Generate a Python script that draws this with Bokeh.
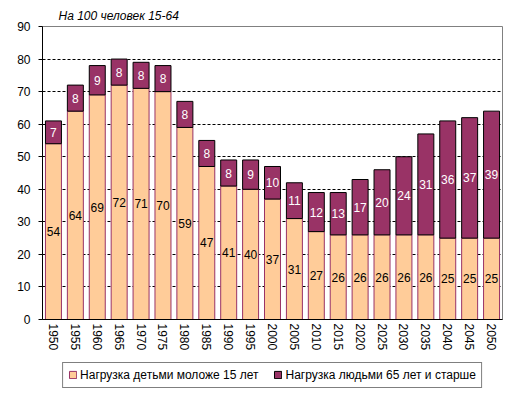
from bokeh.plotting import figure
from bokeh.models import ColumnDataSource, Legend, LegendItem, FixedTicker
from bokeh.layouts import column
from bokeh.core.properties import value
from bokeh.embed import file_html
from bokeh.resources import INLINE

years = ["1950", "1955", "1960", "1965", "1970", "1975", "1980", "1985", "1990", "1995",
         "2000", "2005", "2010", "2015", "2020", "2025", "2030", "2035", "2040", "2045", "2050"]
children = [54, 64, 69, 72, 71, 70, 59, 47, 41, 40, 37, 31, 27, 26, 26, 26, 26, 26, 25, 25, 25]
elderly = [7, 8, 9, 8, 8, 8, 8, 8, 8, 9, 10, 11, 12, 13, 17, 20, 24, 31, 36, 37, 39]
series_names = ["Нагрузка детьми моложе 15 лет", "Нагрузка людьми 65 лет и старше"]
series_fill = ["#FFCC99", "#993366"]
series_line = ["#993366", "#000000"]
title_text = "На 100 человек 15-64"
y_ticks = [0, 10, 20, 30, 40, 50, 60, 70, 80, 90]
grid_ticks = [10, 20, 30, 40, 50, 60, 70, 80]

FONT = "Liberation Sans"

src = ColumnDataSource(dict(
    year=years,
    children=children,
    elderly=elderly,
    c_mid=[c / 2 for c in children],
    e_mid=[c + e / 2 for c, e in zip(children, elderly)],
    c_txt=[str(c) for c in children],
    e_txt=[str(e) for e in elderly],
))

p = figure(x_range=years, y_range=(0, 90), width=517, height=355,
           min_border_left=42, min_border_top=26, min_border_right=15, min_border_bottom=36,
           output_backend="svg", toolbar_location=None, background_fill_color="white",
           title=title_text)

p.title.align = "left"
p.title.offset = 16
p.title.text_font = FONT
p.title.text_font_size = "12px"
p.title.text_font_style = "italic"
p.title.text_color = "black"
p.title.standoff = 7

r = p.vbar_stack(["children", "elderly"], x="year", width=0.73, source=src,
                 fill_color=series_fill, line_color=series_line, line_width=1)

p.text(x="year", y="c_mid", text="c_txt", source=src, text_align="center",
       text_baseline="middle", text_font=value(FONT), text_font_size="12px", text_color="black")
p.text(x="year", y="e_mid", text="e_txt", source=src, text_align="center",
       text_baseline="middle", text_font=value(FONT), text_font_size="12px", text_color="white")

p.x_range.range_padding = 0
p.x_range.group_padding = 0

p.xgrid.grid_line_color = None
p.ygrid.ticker = FixedTicker(ticks=grid_ticks)
p.ygrid.grid_line_color = "black"
p.ygrid.grid_line_dash = "3 2"
p.ygrid.grid_line_width = 1

p.outline_line_color = "#808080"
p.outline_line_width = 1

p.yaxis.ticker = FixedTicker(ticks=y_ticks)
p.yaxis.axis_line_color = "black"
p.yaxis.major_tick_line_color = "black"
p.yaxis.major_tick_out = 4
p.yaxis.major_tick_in = 0
p.yaxis.minor_tick_line_color = None
p.yaxis.major_label_standoff = 8
p.yaxis.major_label_text_font = FONT
p.yaxis.major_label_text_font_size = "12px"
p.yaxis.major_label_text_color = "black"

p.xaxis.axis_line_color = "black"
p.xaxis.major_tick_line_color = None
p.xaxis.major_tick_out = 0
p.xaxis.major_tick_in = 0
p.xaxis.minor_tick_line_color = None
p.xaxis.minor_tick_out = 0
p.xaxis.major_label_orientation = "vertical"
p.xaxis.major_label_standoff = 4
p.xaxis.major_label_text_font = FONT
p.xaxis.major_label_text_font_size = "12px"
p.xaxis.major_label_text_color = "black"

# legend strip (swatch renderers sit outside the visible range; only their legend glyphs show)
lg = figure(width=517, height=39, x_range=(0, 1), y_range=(0, 1),
            min_border_left=42, min_border_right=15, min_border_top=0, min_border_bottom=0,
            output_backend="svg", toolbar_location=None, background_fill_color="white")
lg.axis.visible = False
lg.grid.visible = False
lg.outline_line_color = None
swatch_src = ColumnDataSource(dict(x=[-10], top=[-10], bottom=[-11]))
dummy = [lg.vbar(x="x", top="top", bottom="bottom", width=0.1, source=swatch_src,
                 fill_color=f, line_color=lc, line_width=1)
         for f, lc in zip(series_fill, series_line)]
legend = Legend(items=[LegendItem(label=n, renderers=[d]) for n, d in zip(series_names, dummy)],
                orientation="horizontal", location="center",
                border_line_color="black", border_line_width=1,
                label_text_font=FONT, label_text_font_size="12px", label_text_color="black",
                glyph_width=9, glyph_height=9, spacing=15, padding=5,
                label_standoff=3, margin=0, label_height=12)
lg.add_layout(legend, "center")

layout = column(p, lg, spacing=0)
open("out.html", "w").write(file_html(layout, INLINE))
